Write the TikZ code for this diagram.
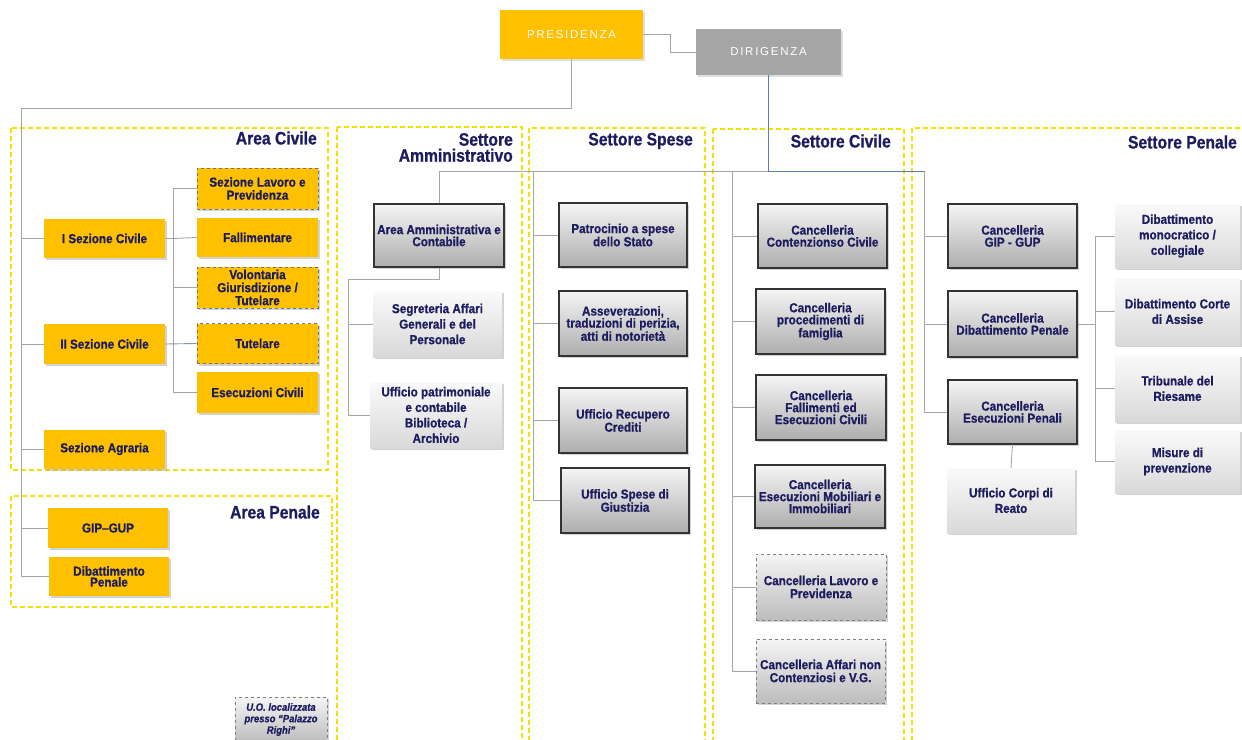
\documentclass[tikz,border=0pt]{standalone}
\usepackage{fontspec}
\setmainfont{Liberation Sans}
\newfontfamily\spacedfont[LetterSpace=15]{Liberation Sans}
\newfontfamily\boxfont[FakeStretch=0.9,FakeBold=0.8]{Liberation Sans}
\newfontfamily\headfont[FakeStretch=0.87,FakeBold=0.8]{Liberation Sans}
\usetikzlibrary{shadows}
\definecolor{ygold}{HTML}{FFC000}
\definecolor{navy}{HTML}{1C1C5E}
\definecolor{conn}{HTML}{A6A6A6}
\definecolor{blueline}{HTML}{5B7DB1}
\definecolor{frameY}{HTML}{F0E400}
\definecolor{dirg}{HTML}{A5A5A5}
\tikzset{
  box/.style={rectangle, inner sep=2pt, align=center, text=navy,
    font=\boxfont\bfseries\fontsize{13}{12}\selectfont,
    drop shadow={shadow xshift=1.5pt, shadow yshift=-2pt, fill=black!35}},
  ybox/.style={box, fill=ygold, font=\boxfont\bfseries\fontsize{13}{13}\selectfont},
  ydash/.style={ybox, draw=black!55, dashed, line width=0.8pt},
  dbox/.style={box, draw=black!80, line width=1.2pt, top color=black!4, bottom color=black!32},
  lbox/.style={box, top color=black!2, bottom color=black!15, font=\boxfont\bfseries\fontsize{13}{15.5}\selectfont},
  ldash/.style={box, top color=black!4, bottom color=black!26, draw=black!50, dashed, line width=0.7pt},
  topbox/.style={rectangle, text=white, font=\spacedfont\fontsize{11.5}{13}\selectfont,
    drop shadow={shadow xshift=1.5pt, shadow yshift=-2pt, fill=black!25}},
  frame/.style={draw=frameY, line width=1.3pt, dash pattern=on 5pt off 3pt},
  head/.style={text=navy, font=\headfont\bfseries\fontsize{18}{16}\selectfont, anchor=east, align=right, inner sep=0pt},
  cn/.style={draw=conn, line width=0.9pt},
  bn/.style={draw=blueline, line width=0.9pt},
}
\begin{document}
\begin{tikzpicture}[x=1pt,y=-1pt]
\useasboundingbox (0,0) rectangle (1242,739);
\clip (0,0) rectangle (1242,739);
\fill[white] (0,0) rectangle (1242,739);

% frames
\draw[frame] (11,128) rectangle (328,470);
\draw[frame] (11,496) rectangle (332,607);
\draw[frame] (337,127) rectangle (522,760);
\draw[frame] (529,128) rectangle (705,760);
\draw[frame] (713,129) rectangle (904,760);
\draw[frame] (912,128) rectangle (1260,760);

% headings
\node[head] (hac) at (317,138) {Area Civile};
\node[head] (hap) at (320,512) {Area Penale};
\node[head] (hsa) at (513,147.5) {Settore\\Amministrativo};
\node[head] (hss) at (693,141) {Settore Spese};
\node[head] (hsc) at (891,141) {Settore Civile};
\node[head] (hsp) at (1237,142) {Settore Penale};

% top
\node[topbox, fill=ygold, minimum width=143, minimum height=49] (pres) at (571.5,34.5) {PRESIDENZA};
\node[topbox, fill=dirg, minimum width=145, minimum height=46] (dir) at (768.5,52) {DIRIGENZA};

% left column
\node[ybox, minimum width=121, minimum height=39] (isc) at (104.5,238.5) {I Sezione Civile};
\node[ybox, minimum width=121, minimum height=40] (iisc) at (104.5,344) {II Sezione Civile};
\node[ybox, minimum width=121, minimum height=39] (agr) at (104.5,449) {Sezione Agraria};
\node[ydash, minimum width=121, minimum height=41] (lavoro) at (257.5,188.5) {Sezione Lavoro e\\Previdenza};
\node[ybox, minimum width=121, minimum height=39] (fallim) at (257.5,237.5) {Fallimentare};
\node[ydash, minimum width=121, minimum height=41] (volont) at (257.5,287.5) {Volontaria\\Giurisdizione /\\Tutelare};
\node[ydash, minimum width=121, minimum height=40] (tutel) at (257.5,343.5) {Tutelare};
\node[ybox, minimum width=121, minimum height=41] (esec) at (257.5,392.5) {Esecuzioni Civili};
\node[ybox, minimum width=120, minimum height=40] (gip) at (108,528) {GIP–GUP};
\node[ybox, minimum width=120, minimum height=39, font=\boxfont\bfseries\fontsize{13}{11}\selectfont] (dibp) at (109,576.5) {Dibattimento\\Penale};
\node[ldash, minimum width=92, minimum height=45, font=\boxfont\bfseries\itshape\fontsize{10.5}{11.5}\selectfont] (uo) at (281,719.5) {U.O. localizzata\\presso “Palazzo\\Righi”};

% settore amministrativo
\node[dbox, minimum width=130, minimum height=63] (aac) at (439,235.5) {Area Amministrativa e\\Contabile};
\node[lbox, minimum width=129, minimum height=66] (seg) at (437.5,324) {Segreteria Affari\\Generali e del\\Personale};
\node[lbox, minimum width=132, minimum height=66] (upat) at (436,415) {Ufficio patrimoniale\\e contabile\\Biblioteca /\\Archivio};

% settore spese
\node[dbox, minimum width=128, minimum height=64] (pat) at (623,235) {Patrocinio a spese\\dello Stato};
\node[dbox, minimum width=128, minimum height=65] (ass) at (623,323.5) {Asseverazioni,\\traduzioni di perizia,\\atti di notorietà};
\node[dbox, minimum width=128, minimum height=65] (rec) at (623,420.5) {Ufficio Recupero\\Crediti};
\node[dbox, minimum width=128, minimum height=65] (spg) at (625,500.5) {Ufficio Spese di\\Giustizia};

% settore civile
\node[dbox, minimum width=129, minimum height=64] (cont) at (822.5,236) {Cancelleria\\Contenzionso Civile};
\node[dbox, minimum width=129, minimum height=65] (proc) at (820.5,321.5) {Cancelleria\\procedimenti di\\famiglia};
\node[dbox, minimum width=130, minimum height=65] (fall) at (821,407.5) {Cancelleria\\Fallimenti ed\\Esecuzioni Civili};
\node[dbox, minimum width=130, minimum height=63] (emob) at (820,496.5) {Cancelleria\\Esecuzioni Mobiliari e\\Immobiliari};
\node[ldash, minimum width=130, minimum height=66, font=\boxfont\bfseries\fontsize{13}{13}\selectfont] (lav) at (821,587) {Cancelleria Lavoro e\\Previdenza};
\node[ldash, minimum width=129, minimum height=64, font=\boxfont\bfseries\fontsize{13}{13}\selectfont] (anc) at (820.5,671) {Cancelleria Affari non\\Contenziosi e V.G.};

% settore penale
\node[dbox, minimum width=129, minimum height=64] (cgip) at (1012.5,236) {Cancelleria\\GIP - GUP};
\node[dbox, minimum width=129, minimum height=66] (cdib) at (1012.5,324) {Cancelleria\\Dibattimento Penale};
\node[dbox, minimum width=129, minimum height=64] (cese) at (1012.5,412) {Cancelleria\\Esecuzioni Penali};
\node[lbox, minimum width=128, minimum height=65] (corp) at (1011,500.5) {Ufficio Corpi di\\Reato};
\node[lbox, minimum width=125, minimum height=64] (dmon) at (1177.5,236) {Dibattimento\\monocratico /\\collegiale};
\node[lbox, minimum width=125, minimum height=67] (dass) at (1177.5,311.5) {Dibattimento Corte\\di Assise};
\node[lbox, minimum width=125, minimum height=67] (trib) at (1177.5,388.5) {Tribunale del\\Riesame};
\node[lbox, minimum width=125, minimum height=63] (mis) at (1177.5,461.5) {Misure di\\prevenzione};

% junction coordinates
\coordinate (lt) at (21,108);
\coordinate (f1) at (173,238.5);
\coordinate (dj) at (768.5,171);
\coordinate (aj) at (439,171);
\coordinate (sj) at (533,171);
\coordinate (cj) at (732,171);
\coordinate (pj) at (924,171);
\coordinate (ab) at (348,279);
\coordinate (rj) at (1095,324);

% connectors
\draw[cn] (pres.east) -- ++(27,0) |- (dir.west);
\draw[cn] (pres.south) |- (lt) -- (lt |- dibp.west) -- (dibp.west);
\draw[cn] (lt |- isc.west) -- (isc.west);
\draw[cn] (lt |- iisc.west) -- (iisc.west);
\draw[cn] (lt |- agr.west) -- (agr.west);
\draw[cn] (lt |- gip.west) -- (gip.west);
\draw[cn] (isc.east) -- (f1);
\draw[cn] (f1) |- (lavoro.west);
\draw[cn] (f1) -- (fallim.west);
\draw[cn] (f1) |- (esec.west);
\draw[cn] (f1 |- volont.west) -- (volont.west);
\draw[bn, draw=conn!60!blueline] (iisc.east) -- (tutel.west);

\draw[cn] (dj) -- (aj) -- (aac.north);
\draw[cn] (aac.south) |- (ab) -- (ab |- upat.west) -- (upat.west);
\draw[cn] (ab |- seg.west) -- (seg.west);

\draw[cn] (sj) |- (spg.west);
\draw[cn] (sj |- pat.west) -- (pat.west);
\draw[cn] (sj |- ass.west) -- (ass.west);
\draw[cn] (sj |- rec.west) -- (rec.west);

\draw[cn] (cj) |- (anc.west);
\draw[cn] (cj |- cont.west) -- (cont.west);
\draw[cn] (cj |- proc.west) -- (proc.west);
\draw[cn] (cj |- fall.west) -- (fall.west);
\draw[cn] (cj |- emob.west) -- (emob.west);
\draw[cn] (cj |- lav.west) -- (lav.west);

\draw[cn] (pj) |- (cese.west);
\draw[cn] (pj |- cgip.west) -- (cgip.west);
\draw[cn] (pj |- cdib.west) -- (cdib.west);
\draw[cn] (cese.south) -- (corp.north);
\draw[cn] (cdib.east) -- (rj);
\draw[cn] (rj |- dmon.west) -- (rj |- mis.west);
\draw[cn] (rj |- dmon.west) -- (dmon.west);
\draw[cn] (rj |- dass.west) -- (dass.west);
\draw[cn] (rj |- trib.west) -- (trib.west);
\draw[cn] (rj |- mis.west) -- (mis.west);

\draw[bn] (dir.south) -- (dj) -- (pj);
\end{tikzpicture}
\end{document}
